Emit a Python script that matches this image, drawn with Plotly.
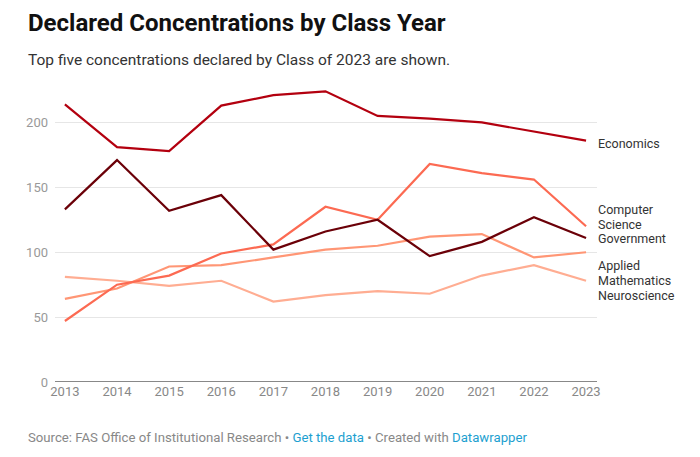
import plotly.graph_objects as go

years = list(range(2013, 2024))
economics = [214, 181, 178, 213, 221, 224, 205, 203, 200, 193, 186]
government = [133, 171, 132, 144, 102, 116, 125, 97, 108, 127, 111]
computer_science = [47, 75, 82, 99, 106, 135, 125, 168, 161, 156, 120]
applied_math = [64, 72, 89, 90, 96, 102, 105, 112, 114, 96, 100]
neuroscience = [81, 78, 74, 78, 62, 67, 70, 68, 82, 90, 78]

series = [
    ("Neuroscience", neuroscience, "#ffad92"),
    ("Applied Mathematics", applied_math, "#ff9675"),
    ("Computer Science", computer_science, "#fc6a52"),
    ("Government", government, "#6b0008"),
    ("Economics", economics, "#b3000f"),
]

labels = [
    ("Economics", 183.8),
    ("Computer", 133.0),
    ("Science", 121.5),
    ("Government", 110.5),
    ("Applied", 90.0),
    ("Mathematics", 78.0),
    ("Neuroscience", 67.0),
]

# page body has an 8px margin, so the figure origin sits at (8, 8)
OFF = 8
W, H = 700 - OFF, 457 - OFF
L, T = 55 - OFF, 90 - OFF
R = W - (597 - OFF)
B = H - (382 - OFF)
PW, PH = W - L - R, H - T - B


def px_x(px):
    return (px - OFF - L) / PW


def px_y(py):
    return (H - B - (py - OFF)) / PH


fig = go.Figure()
for name, vals, color in series:
    fig.add_trace(go.Scatter(x=years, y=vals, mode="lines", name=name,
                             line=dict(color=color, width=2.2), hoverinfo="x+y+name"))

font = "Roboto, 'Noto Sans', sans-serif"
for text, yv in labels:
    fig.add_annotation(x=1, xref="paper", y=yv, yref="y", text=text, showarrow=False,
                       xanchor="left", yanchor="middle", xshift=-1,
                       font=dict(family=font, size=12.5, color="#333333"))

fig.update_layout(
    width=W, height=H,
    margin=dict(l=L, r=R, t=T, b=B),
    paper_bgcolor="white", plot_bgcolor="white",
    showlegend=False,
    font=dict(family=font),
    xaxis=dict(range=[2012.81, 2023.21], tickmode="array", tickvals=years,
               ticktext=[str(y) for y in years], showgrid=False, zeroline=False,
               showline=False, ticks="", tickfont=dict(size=13, color="#888888"),
               fixedrange=True),
    yaxis=dict(range=[0, 225], tickvals=[0, 50, 100, 150, 200], showgrid=True,
               gridcolor="#e6e6e6", gridwidth=1, zeroline=False, showline=False,
               ticks="", tickfont=dict(size=13, color="#999999"), ticklabelstandoff=6,
               fixedrange=True),
)
fig.add_shape(type="line", xref="paper", yref="y", x0=0, x1=1, y0=0, y1=0,
              line=dict(color="#888888", width=2))

fig.add_annotation(x=px_x(26), xref="paper", y=px_y(23), yref="paper",
                   text="<b>Declared Concentrations by Class Year</b>", showarrow=False,
                   xanchor="left", yanchor="middle",
                   font=dict(family=font, size=24, color="#111111"))
fig.add_annotation(x=px_x(26), xref="paper", y=px_y(60), yref="paper",
                   text="Top five concentrations declared by Class of 2023 are shown.",
                   showarrow=False, xanchor="left", yanchor="middle",
                   font=dict(family=font, size=15.5, color="#333333"))
fig.add_annotation(x=px_x(26), xref="paper", y=px_y(438), yref="paper",
                   text=("Source: FAS Office of Institutional Research • "
                         "<span style='color:#1d9fd0'>Get the data</span> • Created with "
                         "<span style='color:#1d9fd0'>Datawrapper</span>"),
                   showarrow=False, xanchor="left", yanchor="middle",
                   font=dict(family=font, size=13.2, color="#888888"))

fig.write_html("out.html")
